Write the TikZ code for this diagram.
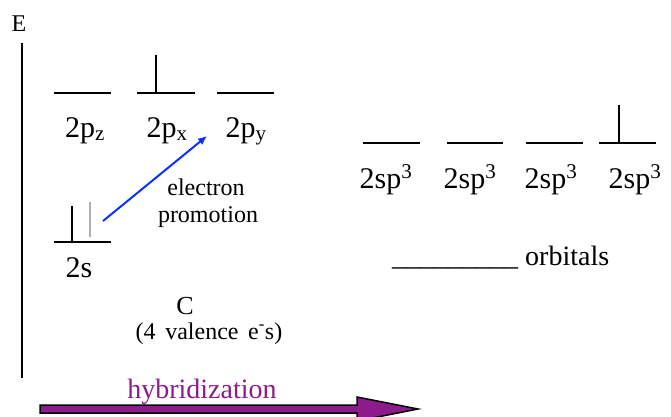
\documentclass[tikz,border=0pt]{standalone}
\usepackage{fontspec}
\setmainfont{Liberation Serif}
\usetikzlibrary{arrows.meta}
\definecolor{promoblue}{RGB}{10,50,250}
\definecolor{hybpurple}{RGB}{140,28,140}
\definecolor{spingray}{RGB}{175,175,175}
\tikzset{
  level/.style={line width=2pt,black},
  spin/.style={line width=1.6pt,black},
  biglab/.style={anchor=base,inner sep=0pt,font=\fontsize{30}{32}\selectfont},
  midlab/.style={anchor=base,inner sep=0pt,font=\fontsize{28}{30}\selectfont},
  smalllab/.style={anchor=base,inner sep=0pt,font=\fontsize{24}{26}\selectfont}
}
\begin{document}
\begin{tikzpicture}[x=1pt,y=-1pt]
\useasboundingbox (0,0) rectangle (671,417);
% energy axis
\node[anchor=base,inner sep=0pt,font=\fontsize{24}{26}\selectfont] (E) at (19,32) {E};
\draw[line width=2pt] (22,43) -- (22,378);
% 2p levels
\draw[level] (54,93) -- (111,93);
\draw[level] (137,93) -- (195,93);
\draw[level] (217,93) -- (274,93);
\draw[spin] (156,55) -- (156,93);
\node[biglab] (pz) at (85,137) {2p\textsubscript{z}};
\node[biglab] (px) at (167,137) {2p\textsubscript{x}};
\node[biglab] (py) at (246,137) {2p\textsubscript{y}};
% 2s level
\draw[level] (54,242) -- (111,242);
\draw[spin] (72,206) -- (72,242);
\draw[line width=1.6pt,spingray] (90,202) -- (90,237);
\node[biglab] (s) at (79,277) {2s};
% promotion arrow
\coordinate (pstart) at (103,221);
\coordinate (pend) at (207,136);
\draw[promoblue,line width=2pt,-{Latex[length=9pt,width=8pt]}] (pstart) -- (pend);
\node[smalllab] (el) at (206,195) {electron};
\node[smalllab] (pr) at (208,222) {promotion};
% carbon
\node[anchor=base,inner sep=0pt,font=\fontsize{26}{28}\selectfont] (C) at (185,314) {C};
\node[smalllab] (val) at (209,339) {(4\hspace{0.15em} valence\hspace{0.15em} e\textsuperscript{-}s)};
% sp3 levels
\draw[level] (363,143) -- (420,143);
\draw[level] (447,143) -- (503,143);
\draw[level] (526,143) -- (583,143);
\draw[level] (599,143) -- (656,143);
\draw[spin] (619,105) -- (619,143);
\node[biglab] (h1) at (386,188) {2sp\textsuperscript{3}};
\node[biglab] (h2) at (470,188) {2sp\textsuperscript{3}};
\node[biglab] (h3) at (551,188) {2sp\textsuperscript{3}};
\node[biglab] (h4) at (635,188) {2sp\textsuperscript{3}};
\node[midlab,anchor=base west] (orb) at (392,265) {\_\_\_\_\_\_\_\_\_ orbitals};
% hybridization arrow
\node[midlab,text=hybpurple] (hyb) at (202,398) {hybridization};
\draw[fill=hybpurple,draw=black,line width=1.5pt,line join=miter]
  (40,405) -- (357,405) -- (357,397) -- (418,409) -- (357,421) -- (357,413) -- (40,413) -- cycle;
\end{tikzpicture}
\end{document}
